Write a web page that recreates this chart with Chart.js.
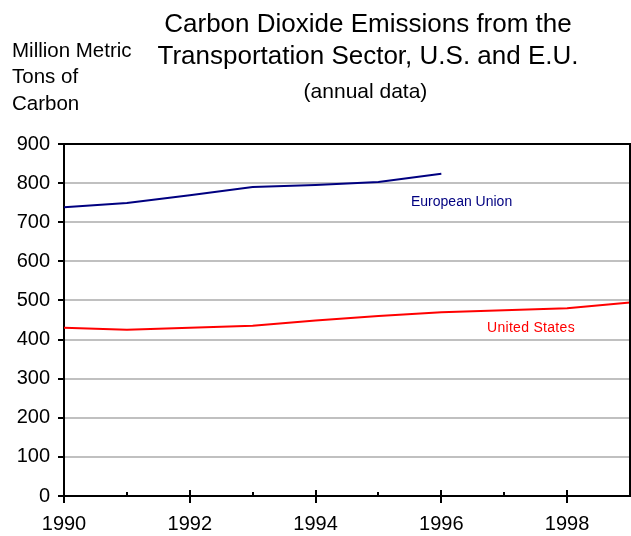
<!DOCTYPE html>
<html>
<head>
<meta charset="utf-8">
<script src="https://cdn.jsdelivr.net/npm/chart.js@4/dist/chart.umd.min.js"></script>
<style>
  html, body { margin: 0; padding: 0; background: #fff; }
  #wrap { position: relative; width: 631px; height: 536px; font-family: "Liberation Sans", Arial, sans-serif; color: #000; }
  canvas { position: absolute; left: 0; top: 0; }
  .t { position: absolute; white-space: nowrap; line-height: 1; }
</style>
</head>
<body>
<div id="wrap">
  <canvas id="c" width="631" height="536"></canvas>
  <div class="t" style="left:0;width:736px;text-align:center;top:10px;font-size:26px;">Carbon Dioxide Emissions from the</div>
  <div class="t" style="left:0;width:736px;text-align:center;top:42px;font-size:26px;">Transportation Sector, U.S. and E.U.</div>
  <div class="t" style="left:0;width:731px;text-align:center;top:80px;font-size:21px;">(annual data)</div>
  <div class="t" style="left:12px;top:40px;font-size:20.5px;">Million Metric</div>
  <div class="t" style="left:12px;top:66px;font-size:20.5px;">Tons of</div>
  <div class="t" style="left:12px;top:93px;font-size:20.5px;">Carbon</div>
  <div class="t" style="left:411px;top:194px;font-size:14px;color:#000080;">European Union</div>
  <div class="t" style="left:487px;top:320px;font-size:14px;color:#ff0000;letter-spacing:0.3px;">United States</div>
</div>
<script>
const years = [1990, 1991, 1992, 1993, 1994, 1995, 1996, 1997, 1998, 1999];
const euValues = [738, 749, 769, 790, 795, 803, 824, null, null, null];
const usValues = [430, 425, 430, 435, 449, 460, 470, 475, 480, 495];
const xTickLabels = [1990, 1992, 1994, 1996, 1998];
const yTickValues = [0, 100, 200, 300, 400, 500, 600, 700, 800, 900];

const toPoints = vals => years.map((yr, i) => ({ x: yr, y: vals[i] }));

const frame = {
  id: 'frame',
  afterDraw(chart) {
    const { ctx, chartArea: a, scales } = chart;
    ctx.save();
    ctx.strokeStyle = '#000';
    ctx.lineWidth = 2;
    ctx.beginPath();
    ctx.moveTo(a.left, a.top); ctx.lineTo(a.right, a.top); ctx.lineTo(a.right, a.bottom);
    ctx.stroke();
    // x-axis tick marks
    years.forEach(yr => {
      const px = Math.round(scales.x.getPixelForValue(yr));
      const major = xTickLabels.includes(yr);
      ctx.beginPath();
      ctx.moveTo(px, a.bottom - (major ? 6 : 4));
      ctx.lineTo(px, a.bottom + (major ? 7 : 0));
      ctx.stroke();
    });
    ctx.restore();
  }
};

new Chart(document.getElementById('c'), {
  type: 'line',
  data: {
    datasets: [
      { label: 'European Union', data: toPoints(euValues), borderColor: '#000080', borderWidth: 2, pointRadius: 0, tension: 0, spanGaps: false },
      { label: 'United States', data: toPoints(usValues), borderColor: '#ff0000', borderWidth: 2, pointRadius: 0, tension: 0 }
    ]
  },
  options: {
    responsive: false,
    animation: false,
    layout: { padding: { top: 144, right: 1, left: 0, bottom: 0 } },
    plugins: { legend: { display: false }, tooltip: { enabled: false }, title: { display: false } },
    scales: {
      x: {
        type: 'linear',
        min: 1990, max: 1999,
        afterBuildTicks: s => { s.ticks = xTickLabels.map(v => ({ value: v })); },
        afterFit: s => { s.height = 40; },
        grid: { display: false },
        border: { color: '#000', width: 2 },
        ticks: {
          color: '#000', padding: 8, maxRotation: 0, autoSkip: false,
          font: { family: '"Liberation Sans", Arial, sans-serif', size: 20 },
          callback: v => String(v)
        }
      },
      y: {
        min: 0, max: 900,
        afterBuildTicks: s => { s.ticks = yTickValues.map(v => ({ value: v })); },
        afterFit: s => { s.width = 64; },
        grid: {
          color: c => (c.tick && (c.tick.value === 0 || c.tick.value === 900)) ? 'rgba(0,0,0,0)' : '#c0c0c0',
          lineWidth: 2,
          tickColor: '#000',
          tickLength: 6
        },
        border: { color: '#000', width: 2 },
        ticks: {
          color: '#000', padding: 8,
          font: { family: '"Liberation Sans", Arial, sans-serif', size: 20 },
          callback: v => String(v)
        }
      }
    }
  },
  plugins: [frame]
});
</script>
</body>
</html>
